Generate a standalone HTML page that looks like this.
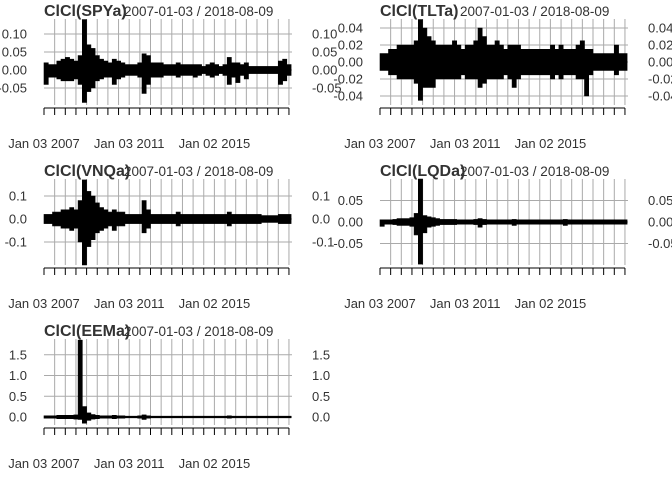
<!DOCTYPE html>
<html><head><meta charset="utf-8"><style>
html,body{margin:0;padding:0;background:#fff;}
svg{display:block;font-family:"Liberation Sans",sans-serif;}
</style></head><body>
<svg id="chart" width="672" height="480" viewBox="0 0 672 480" xmlns="http://www.w3.org/2000/svg"></svg>
<script>
const seriesNames = ["ClCl(SPYa)","ClCl(TLTa)","ClCl(VNQa)","ClCl(LQDa)","ClCl(EEMa)"];
const dateRange = "2007-01-03 / 2018-08-09";
const xLabels = ["Jan 03 2007","Jan 03 2011","Jan 02 2015"];
const xLabelYears = [2007,2011,2015];
const startYear = 2007.0, binYears = 0.2;
const spyHi = [.02,.015,.015,.025,.03, .035,.03,.025,.04,.14, .07,.06,.04,.03,.025, .02,.03,.025,.02,.015, .015,.015,.02,.045,.04, .02,.02,.02,.015,.015, .015,.02,.015,.015,.015, .015,.015,.01,.015,.02, .015,.01,.015,.035,.02, .02,.015,.02,.01,.01, .01,.01,.01,.01,.01, .025,.03,.015];
const spyLo = [-.04,-.02,-.02,-.025,-.03, -.03,-.03,-.025,-.04,-.09, -.06,-.05,-.03,-.025,-.02, -.02,-.04,-.025,-.02,-.015, -.015,-.015,-.02,-.065,-.04, -.02,-.02,-.02,-.015,-.015, -.015,-.02,-.015,-.015,-.015, -.02,-.015,-.01,-.015,-.02, -.015,-.01,-.015,-.04,-.02, -.035,-.015,-.025,-.01,-.01, -.01,-.01,-.01,-.01,-.01, -.04,-.03,-.015];
const tltHi = [.01,.01,.015,.015,.02, .02,.02,.02,.025,.05, .04,.03,.025,.02,.02, .02,.02,.025,.02,.015, .02,.02,.025,.04,.03, .02,.02,.025,.02,.015, .02,.02,.02,.015,.015, .015,.015,.015,.015,.015, .02,.015,.02,.015,.015, .015,.02,.025,.015,.015, .01,.01,.01,.01,.01, .02,.01,.01];
const tltLo = [-.01,-.01,-.015,-.015,-.02, -.02,-.02,-.02,-.025,-.045, -.03,-.03,-.03,-.02,-.02, -.02,-.02,-.02,-.02,-.015, -.02,-.02,-.02,-.03,-.025, -.02,-.02,-.02,-.02,-.015, -.02,-.03,-.02,-.015,-.015, -.015,-.015,-.015,-.015,-.015, -.02,-.015,-.02,-.015,-.015, -.015,-.02,-.02,-.04,-.015, -.01,-.01,-.01,-.01,-.01, -.015,-.01,-.01];
const vnqHi = [.02,.02,.03,.03,.04, .04,.05,.04,.08,.17, .12,.1,.07,.05,.04, .03,.04,.03,.03,.02, .02,.02,.02,.08,.04, .02,.02,.02,.02,.02, .02,.03,.02,.02,.02, .02,.02,.02,.02,.02, .02,.02,.02,.03,.02, .02,.02,.02,.02,.02, .02,.015,.015,.015,.015, .02,.02,.02];
const vnqLo = [-.02,-.02,-.03,-.03,-.04, -.04,-.05,-.04,-.1,-.2, -.12,-.09,-.06,-.05,-.04, -.03,-.05,-.03,-.03,-.02, -.02,-.02,-.02,-.06,-.04, -.02,-.02,-.02,-.02,-.02, -.02,-.03,-.02,-.02,-.02, -.02,-.02,-.02,-.02,-.02, -.02,-.02,-.02,-.03,-.02, -.02,-.02,-.02,-.02,-.02, -.02,-.015,-.015,-.015,-.015, -.02,-.02,-.02];
const lqdHi = [.005,.005,.005,.006,.008, .008,.008,.01,.02,.1, .015,.012,.01,.008,.006, .006,.006,.006,.005,.005, .005,.005,.006,.008,.006, .005,.005,.005,.005,.005, .005,.006,.005,.005,.005, .005,.005,.005,.005,.005, .005,.005,.005,.006,.005, .005,.005,.005,.005,.005, .005,.005,.005,.005,.005, .005,.005,.005];
const lqdLo = [-.01,-.005,-.005,-.006,-.008, -.008,-.008,-.01,-.03,-.098, -.025,-.012,-.01,-.008,-.006, -.006,-.006,-.006,-.005,-.005, -.005,-.005,-.006,-.012,-.006, -.005,-.005,-.005,-.005,-.005, -.005,-.008,-.005,-.005,-.005, -.005,-.005,-.005,-.005,-.005, -.005,-.005,-.005,-.008,-.005, -.005,-.005,-.005,-.005,-.005, -.005,-.005,-.005,-.005,-.005, -.005,-.005,-.005];
const eemHi = [.03,.03,.03,.04,.04, .04,.04,.05,1.85,.25, .1,.06,.04,.03,.03, .03,.04,.03,.03,.02, .02,.02,.03,.05,.03, .02,.02,.02,.02,.02, .02,.02,.02,.02,.02, .02,.02,.02,.02,.02, .02,.02,.02,.03,.02, .02,.02,.02,.02,.02, .02,.02,.02,.02,.02, .02,.02,.02];
const eemLo = [-.03,-.03,-.03,-.04,-.04, -.04,-.04,-.05,-.06,-.15, -.08,-.05,-.04,-.03,-.03, -.03,-.04,-.03,-.03,-.02, -.02,-.02,-.03,-.06,-.03, -.02,-.02,-.02,-.02,-.02, -.02,-.02,-.02,-.02,-.02, -.02,-.02,-.02,-.02,-.02, -.02,-.02,-.02,-.03,-.02, -.02,-.02,-.02,-.02,-.02, -.02,-.02,-.02,-.02,-.02, -.02,-.02,-.02];
const spyTicks = [0.10,0.05,0.00,-0.05], spyTickLabels = ["0.10","0.05","0.00","-0.05"];
const tltTicks = [0.04,0.02,0.00,-0.02,-0.04], tltTickLabels = ["0.04","0.02","0.00","-0.02","-0.04"];
const vnqTicks = [0.1,0.0,-0.1], vnqTickLabels = ["0.1","0.0","-0.1"];
const lqdTicks = [0.05,0.00,-0.05], lqdTickLabels = ["0.05","0.00","-0.05"];
const eemTicks = [1.5,1.0,0.5,0.0], eemTickLabels = ["1.5","1.0","0.5","0.0"];

const NS="http://www.w3.org/2000/svg";
const svg=document.getElementById('chart');
function mk(tag,attrs,parent){const e=document.createElementNS(NS,tag);for(const k in attrs)e.setAttribute(k,attrs[k]);(parent||svg).appendChild(e);return e;}
const panels=[
 {ox:0,oy:0,zero:70,scale:360,hi:spyHi,lo:spyLo,ticks:spyTicks,labels:spyTickLabels,key:'spy'},
 {ox:336,oy:0,zero:62,scale:850,hi:tltHi,lo:tltLo,ticks:tltTicks,labels:tltTickLabels,key:'tlt'},
 {ox:0,oy:160,zero:59,scale:230,hi:vnqHi,lo:vnqLo,ticks:vnqTicks,labels:vnqTickLabels,key:'vnq'},
 {ox:336,oy:160,zero:62,scale:430,hi:lqdHi,lo:lqdLo,ticks:lqdTicks,labels:lqdTickLabels,key:'lqd'},
 {ox:0,oy:320,zero:97,scale:41.5,hi:eemHi,lo:eemLo,ticks:eemTicks,labels:eemTickLabels,key:'eem'}
];
panels.forEach((p,i)=>{
 const g=mk('g',{});
 
 
 const x0=44+p.ox, pxYear=21.3;
 const X=t=>x0+(t-startYear)*pxYear;
 const Y=v=>p.oy+p.zero-v*p.scale;
 const top=p.oy+19, bot=p.oy+105;
 for(let k=0;k<24;k++){
  const x=x0+k*10.65;
  if(k>0){const l=mk('line',{x1:x,x2:x,y1:top,y2:bot,stroke:'#aaa','stroke-width':1},g);
   }
  const tk=mk('line',{x1:x,x2:x,y1:p.oy+108,y2:p.oy+115,stroke:'#000','stroke-width':1},g);
  
 }
 const ax=mk('line',{x1:x0,x2:x0+23*10.65,y1:p.oy+108,y2:p.oy+108,stroke:'#000','stroke-width':1},g);
 
 p.ticks.forEach((v,j)=>{
  const y=Y(v);
  const l=mk('line',{x1:x0,x2:x0+248,y1:y,y2:y,stroke:'#aaa','stroke-width':1},g);
  
  const tl=mk('text',{x:x0-17,y:y+4.5,'text-anchor':'end','font-size':13,fill:'#333'},g);
  tl.textContent=p.labels[j];
  
  const tr=mk('text',{x:x0+268,y:y+4.5,'font-size':13,fill:'#333'},g);
  tr.textContent=p.labels[j];
  
 });
 const n=p.hi.length;let pts=[];
 for(let k=0;k<n;k++){const a=startYear+k*binYears,b=a+binYears;pts.push(X(a).toFixed(1)+','+Y(p.hi[k]).toFixed(1));pts.push(X(b).toFixed(1)+','+Y(p.hi[k]).toFixed(1));}
 for(let k=n-1;k>=0;k--){const a=startYear+k*binYears,b=a+binYears;pts.push(X(b).toFixed(1)+','+Y(p.lo[k]).toFixed(1));pts.push(X(a).toFixed(1)+','+Y(p.lo[k]).toFixed(1));}
 const poly=mk('polygon',{points:pts.join(' '),fill:'#000',stroke:'#000','stroke-width':0.6},g);
 
 xLabels.forEach((s,j)=>{
  const t=mk('text',{x:X(xLabelYears[j]),y:p.oy+148,'text-anchor':'middle','font-size':13,fill:'#333'},g);
  t.textContent=s;
  
 });
 const d=mk('text',{x:x0+80,y:p.oy+16,'font-size':13.5,fill:'#333'},g);
 d.textContent=dateRange;
 
 const ti=mk('text',{x:x0,y:p.oy+16,'font-size':16,'font-weight':'bold',fill:'#333'},g);
 ti.textContent=seriesNames[i];
 
});
</script>
</body></html>
